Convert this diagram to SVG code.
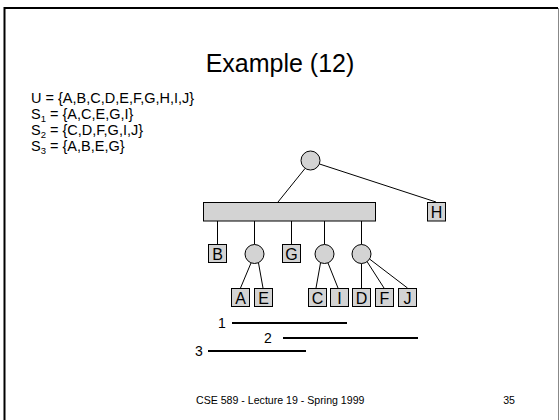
<svg xmlns="http://www.w3.org/2000/svg" width="560" height="420" viewBox="0 0 560 420">
<style>
text{font-family:"Liberation Sans",Arial,sans-serif;fill:#000}
.n{fill:#d3d3d3;stroke:#000;stroke-width:1}
.c{stroke:#000;stroke-width:1;fill:none}
.bar{stroke:#000;stroke-width:2}
.lt{font-size:16px;text-anchor:middle}
.body{font-size:14.5px}
.sub{font-size:9.5px}
</style>
<rect width="560" height="420" fill="#fff"/>
<path d="M4.5 420 V8 H558" fill="none" stroke="#000" stroke-width="2"/>
<line x1="558.5" y1="8" x2="558.5" y2="420" stroke="#888" stroke-width="1"/>
<text x="280" y="72" font-size="25" text-anchor="middle">Example (12)</text>
<g id="sets" class="body">
<text x="31" y="103" class="body">U = {A,B,C,D,E,F,G,H,I,J}</text>
<text x="31" y="119" class="body">S<tspan class="sub" dy="3">1</tspan><tspan dy="-3"> = {A,C,E,G,I}</tspan></text>
<text x="31" y="135" class="body">S<tspan class="sub" dy="3">2</tspan><tspan dy="-3"> = {C,D,F,G,I,J}</tspan></text>
<text x="31" y="151" class="body">S<tspan class="sub" dy="3">3</tspan><tspan dy="-3"> = {A,B,E,G}</tspan></text>
</g>
<g id="connectors" class="c">
<line x1="305" y1="168.5" x2="278" y2="202"/>
<line x1="319.5" y1="164" x2="436" y2="202"/>
<line x1="217.5" y1="221" x2="217.5" y2="244"/>
<line x1="254.5" y1="221" x2="254.5" y2="244.5"/>
<line x1="291.5" y1="221" x2="291.5" y2="244"/>
<line x1="324.5" y1="221" x2="324.5" y2="244.5"/>
<line x1="361.5" y1="221" x2="361.5" y2="244.5"/>
<line x1="251" y1="263" x2="240.5" y2="288"/>
<line x1="258.5" y1="263" x2="263" y2="288"/>
<line x1="320.5" y1="263" x2="316" y2="288"/>
<line x1="328" y1="263" x2="338" y2="288"/>
<line x1="361.5" y1="263.5" x2="361.5" y2="288"/>
<line x1="367" y1="261.5" x2="384" y2="288"/>
<line x1="369.5" y1="259" x2="407.5" y2="288"/>
</g>
<g id="root"><circle class="n" cx="310.5" cy="160.5" r="9.5"/></g>
<g id="bar"><rect class="n" x="203.5" y="202.5" width="172" height="18.5"/></g>
<g id="H"><rect class="n" x="427.5" y="202.5" width="18" height="18.5"/><text class="lt" x="436.5" y="218">H</text></g>
<g id="B"><rect class="n" x="208.5" y="244.5" width="18" height="18"/><text class="lt" x="217.5" y="260">B</text></g>
<g id="c1"><circle class="n" cx="254.5" cy="254" r="9.5"/></g>
<g id="G"><rect class="n" x="282.5" y="244.5" width="18" height="18"/><text class="lt" x="291.5" y="260">G</text></g>
<g id="c2"><circle class="n" cx="324.5" cy="254" r="9.5"/></g>
<g id="c3"><circle class="n" cx="361.5" cy="254" r="9.5"/></g>
<g id="A"><rect class="n" x="231.5" y="288.5" width="18" height="18"/><text class="lt" x="240.5" y="304">A</text></g>
<g id="E"><rect class="n" x="254.5" y="288.5" width="18" height="18"/><text class="lt" x="263.5" y="304">E</text></g>
<g id="C"><rect class="n" x="308.5" y="288.5" width="18" height="18"/><text class="lt" x="317.5" y="304">C</text></g>
<g id="I"><rect class="n" x="330.5" y="288.5" width="18" height="18"/><text class="lt" x="339.5" y="304">I</text></g>
<g id="D"><rect class="n" x="352.5" y="288.5" width="18" height="18"/><text class="lt" x="361.5" y="304">D</text></g>
<g id="F"><rect class="n" x="375.5" y="288.5" width="18" height="18"/><text class="lt" x="384.5" y="304">F</text></g>
<g id="J"><rect class="n" x="398.5" y="288.5" width="18" height="18"/><text class="lt" x="407.5" y="304">J</text></g>
<g id="ranges">
<text x="222" y="328" font-size="14" text-anchor="middle">1</text>
<line class="bar" x1="232" y1="323" x2="347" y2="323"/>
<text x="268" y="343" font-size="14" text-anchor="middle">2</text>
<line class="bar" x1="283" y1="338" x2="418" y2="338"/>
<text x="199" y="356" font-size="14" text-anchor="middle">3</text>
<line class="bar" x1="208" y1="351" x2="306" y2="351"/>
</g>
<text x="196" y="404" font-size="10.6">CSE 589 - Lecture 19 - Spring 1999</text>
<text x="515" y="404" font-size="10.6" text-anchor="end">35</text>
</svg>
